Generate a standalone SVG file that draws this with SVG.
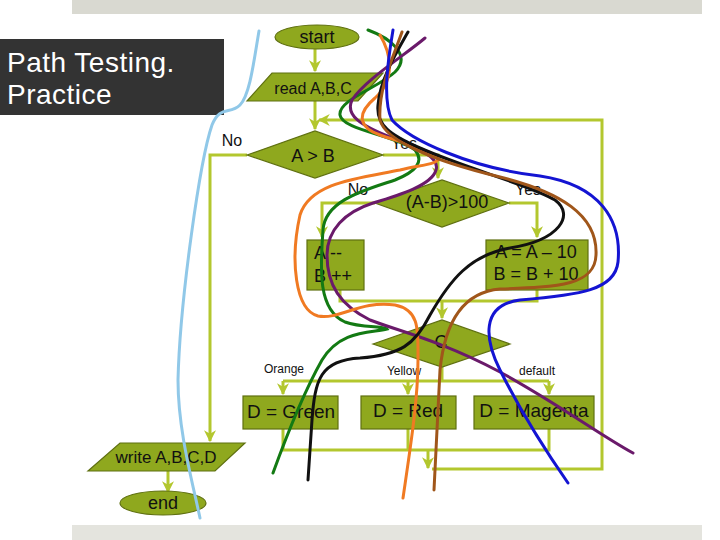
<svg xmlns="http://www.w3.org/2000/svg" width="720" height="540" viewBox="0 0 720 540">
<defs>
<marker id="ah" viewBox="0 0 10 10" refX="9" refY="5" markerWidth="4" markerHeight="4" orient="auto" markerUnits="strokeWidth">
<path d="M0,0 L10,5 L0,10 L3,5 Z" fill="#b3c72e"/>
</marker>
<style>
.node{fill:#8fa81e;stroke:#5f7010;stroke-width:1.2}
.t{font-family:"Liberation Sans",Arial,sans-serif;fill:#111;text-anchor:middle;dominant-baseline:central;font-size:18px}
.ts{font-family:"Liberation Sans",Arial,sans-serif;fill:#111;dominant-baseline:central;font-size:18px}
.lbl{font-family:"Liberation Sans",Arial,sans-serif;fill:#111;font-size:12px;text-anchor:middle;dominant-baseline:central}
.yn{font-family:"Liberation Sans",Arial,sans-serif;fill:#111;font-size:16px;text-anchor:middle;dominant-baseline:central}
.c{fill:none;stroke:#b3c72e;stroke-width:3}
.ca{fill:none;stroke:#b3c72e;stroke-width:3;marker-end:url(#ah)}
.p{fill:none;stroke-width:3;stroke-linecap:round}
</style>
</defs>
<rect width="720" height="540" fill="#ffffff"/>
<rect x="72" y="0" width="630" height="14" fill="#d9d9d1"/>
<rect x="72" y="525" width="630" height="15" fill="#e4e4de"/>
<g id="title">
<rect x="0" y="39" width="224" height="76" fill="#333333"/>
<text x="7" y="72" font-family="Liberation Sans,Arial,sans-serif" font-size="28" letter-spacing="0.5" fill="#ffffff">Path Testing.</text>
<text x="7" y="104" font-family="Liberation Sans,Arial,sans-serif" font-size="28" letter-spacing="0.5" fill="#ffffff">Practice</text>
</g>
<g id="connectors">
<path class="ca" d="M315,49 V71"/>
<path class="ca" d="M315,101 V129"/>
<path class="ca" d="M432,469 H602 V120 H319"/>
<path class="ca" d="M247,155 H210 V441"/>
<path class="ca" d="M383,155 H438 V178"/>
<path class="ca" d="M375,203 H322 V237"/>
<path class="ca" d="M509,203 H537 V237"/>
<path class="c" d="M340,290 V301 H537 V290"/>
<path class="ca" d="M442,301 V318"/>
<path class="c" d="M442,367 V381"/>
<path class="c" d="M283,381 H549"/>
<path class="ca" d="M283,381 V394"/>
<path class="ca" d="M408,381 V394"/>
<path class="ca" d="M549,381 V394"/>
<path class="c" d="M283,429 V450 H549 V429"/>
<path class="c" d="M408,429 V450"/>
<path class="ca" d="M428,450 V468"/>
<path class="ca" d="M168,471 V492"/>
</g>
<g id="start">
<ellipse class="node" cx="317" cy="37" rx="42" ry="12"/>
<text class="t" x="317" y="37">start</text>
</g>
<g id="read">
<polygon class="node" points="272,73 383,73 358,101 247,101"/>
<text class="t" x="313" y="88" style="font-size:16px">read A,B,C</text>
</g>
<g id="dec1">
<polygon class="node" points="247,155 315,131 383,155 315,178"/>
<text class="t" x="313" y="156">A &gt; B</text>
</g>
<text class="yn" x="232" y="140">No</text>
<text class="yn" x="404" y="143">Yes</text>
<g id="dec2">
<polygon class="node" points="375,203 442,180 509,203 442,227"/>
<text class="t" x="447" y="202">(A-B)&gt;100</text>
</g>
<text class="yn" x="358" y="189">No</text>
<text class="yn" x="528" y="189">Yes</text>
<g id="boxL">
<rect class="node" x="307" y="240" width="57" height="50"/>
<text class="ts" x="314" y="253">A --</text>
<text class="ts" x="314" y="276">B ++</text>
</g>
<g id="boxR">
<rect class="node" x="486" y="240" width="102" height="50"/>
<text class="t" x="536" y="252">A = A – 10</text>
<text class="t" x="536" y="274">B = B + 10</text>
</g>
<g id="decC">
<polygon class="node" points="373,344 442,320 510,344 442,367"/>
<text class="t" x="441" y="342">C</text>
</g>
<text class="lbl" x="284" y="369">Orange</text>
<text class="lbl" x="404" y="371">Yellow</text>
<text class="lbl" x="537" y="371">default</text>
<g id="dGreen">
<rect class="node" x="243" y="396" width="95" height="33"/>
<text class="t" x="291" y="411" style="font-size:19px">D = Green</text>
</g>
<g id="dRed">
<rect class="node" x="361" y="396" width="95" height="33"/>
<text class="t" x="408" y="410" style="font-size:19px">D = Red</text>
</g>
<g id="dMagenta">
<rect class="node" x="474" y="396" width="120" height="33"/>
<text class="t" x="534" y="410" style="font-size:19px">D = Magenta</text>
</g>
<g id="write">
<polygon class="node" points="120,443 245,443 215,471 88,471"/>
<text class="t" x="166" y="457" style="font-size:17px">write A,B,C,D</text>
</g>
<g id="end">
<ellipse class="node" cx="163" cy="503" rx="43" ry="12"/>
<text class="t" x="163" y="503">end</text>
</g>
<g id="paths">
<path class="p" stroke="#90c8e8" d="M259,31 C254,60 250,95 240,105 C230,115 220,105 212,125 C200,160 180,300 178,380 C178,430 192,480 200,518"/>
<path class="p" stroke="#137a13" d="M368,30 C390,38 412,55 395,72 C378,88 338,100 340,115 C342,130 395,135 415,150 C425,162 415,172 395,180 C365,190 325,200 323,230 C320,270 318,310 345,322 C360,328 385,326 387,329 C370,333 340,330 322,360 C305,390 285,440 273,473"/>
<path class="p" stroke="#6a1a6a" d="M425,38 C405,55 365,80 352,100 C345,115 360,125 390,137 C420,148 440,158 436,170 C432,185 400,195 373,203 C345,212 327,230 327,255 C327,285 340,305 370,320 C395,330 440,340 500,372 C560,405 600,435 633,453"/>
<path class="p" stroke="#f07a22" d="M380,35 C392,55 395,80 375,98 C355,115 360,128 380,135 C400,142 430,150 438,158 C440,164 420,165 400,170 C360,178 310,182 300,215 C290,260 295,310 318,316 C340,320 360,300 395,305 C420,310 418,330 418,360 C418,400 410,450 403,498"/>
<path class="p" stroke="#111111" d="M408,32 C395,55 380,80 378,105 C376,125 390,135 420,148 C470,170 530,185 555,200 C575,215 560,240 510,248 C470,255 450,280 430,315 C415,345 400,355 360,358 C320,360 315,380 312,420 L308,480"/>
<path class="p" stroke="#a0561a" d="M402,32 C392,60 378,90 380,120 C385,140 430,160 500,177 C560,192 598,215 596,255 C595,285 560,287 500,289 C465,292 445,320 440,370 L434,490"/>
<path class="p" stroke="#1414d2" d="M393,30 C388,60 382,100 392,120 C410,140 470,168 540,176 C600,185 622,220 618,262 C615,290 580,295 520,300 C480,305 485,340 500,370 C520,410 545,450 568,483"/>
</g>
</svg>
